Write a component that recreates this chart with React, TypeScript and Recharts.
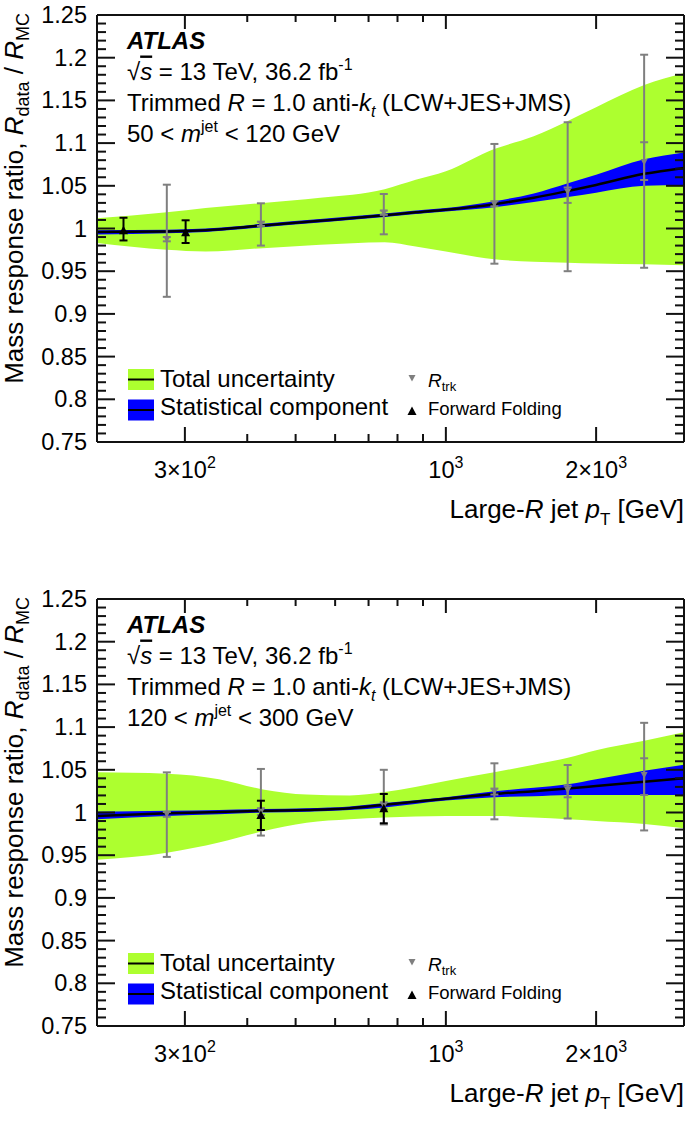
import React from 'react';
import { ComposedChart, Area, Line, Scatter, ErrorBar, XAxis, YAxis } from 'recharts';

const FONT = '"Liberation Sans", Arial, Helvetica, sans-serif';
const GREEN = '#adff2f';
const BLUE = '#0000ff';
const GREY = '#7f7f7f';
const INK = '#111';

const W = 685;
const PLOT_L = 97;
const PLOT_R = 684;
const PLOT_H = 427;
const X_AXIS_H = 60;

// axis ticks
const xMajor = [300, 1000, 2000];
const xMajorBase = ['3×10', '10', '2×10'];
const xMajorExp = ['2', '3', '3'];
const xMinor = [400, 500, 600, 700, 800, 900];
const xTicks = [...xMajor, ...xMinor].sort((a, b) => a - b);

const yMajor = [0.75, 0.8, 0.85, 0.9, 0.95, 1, 1.05, 1.1, 1.15, 1.2, 1.25];
const yMajorLabels = ['0.75', '0.8', '0.85', '0.9', '0.95', '1', '1.05', '1.1', '1.15', '1.2', '1.25'];
const yTicks: number[] = [];
for (let i = 75; i <= 125; i++) yTicks.push(i / 100);

// ---- 50 < m < 120 GeV ----
const lowPt = [200, 276, 330, 430, 560, 754, 870, 1000, 1250, 1500, 1756, 2000, 2497, 3000];
const lowTotLo = [0.983, 0.975, 0.973, 0.977, 0.981, 0.984, 0.979, 0.973, 0.964, 0.961, 0.960, 0.959, 0.958, 0.957];
const lowTotHi = [1.012, 1.019, 1.024, 1.030, 1.036, 1.046, 1.057, 1.067, 1.093, 1.108, 1.126, 1.142, 1.168, 1.182];
const lowStatLo = [0.993, 0.9945, 0.996, 1.0015, 1.007, 1.0135, 1.017, 1.020, 1.025, 1.031, 1.037, 1.042, 1.050, 1.051];
const lowStatHi = [0.998, 0.9985, 1.000, 1.0055, 1.011, 1.0175, 1.021, 1.024, 1.032, 1.041, 1.053, 1.063, 1.081, 1.089];
const lowCentral = [0.996, 0.9965, 0.998, 1.0035, 1.009, 1.0155, 1.019, 1.022, 1.0285, 1.036, 1.044, 1.051, 1.064, 1.071];

const rtrkPt = [276, 426, 751, 1251, 1754, 2496];
const lowRtrk = [0.9874, 1.0053, 1.0185, 1.0287, 1.043, 1.078];
const lowRtrkLo = [0.920, 0.980, 0.9932, 0.9588, 0.950, 0.954];
const lowRtrkHi = [1.0513, 1.0295, 1.0404, 1.099, 1.1244, 1.2035];
const lowRtrkStatLo = [0.985, 1.003, 1.016, 1.026, 1.030, 1.0568];
const lowRtrkStatHi = [0.990, 1.008, 1.021, 1.032, 1.048, 1.101];

const lowFfPt = [226, 301];
const lowFf = [0.998, 0.9955];
const lowFfLo = [0.986, 0.983];
const lowFfHi = [1.0126, 1.0096];

// ---- 120 < m < 300 GeV ----
const highPt = [200, 276, 351, 430, 526, 642, 754, 1000, 1250, 1500, 1756, 2000, 2497, 3000];
const highTotLo = [0.9447, 0.953, 0.965, 0.978, 0.988, 0.992, 0.994, 0.996, 0.996, 0.994, 0.992, 0.990, 0.9866, 0.9817];
const highTotHi = [1.047, 1.0455, 1.039, 1.027, 1.021, 1.020, 1.024, 1.037, 1.047, 1.056, 1.064, 1.073, 1.084, 1.094];
const highStatLo = [0.992, 0.996, 0.998, 1.000, 1.001, 1.003, 1.006, 1.014, 1.018, 1.019, 1.0205, 1.0205, 1.0205, 1.0205];
const highStatHi = [1.001, 1.002, 1.003, 1.004, 1.005, 1.007, 1.011, 1.018, 1.025, 1.029, 1.033, 1.039, 1.049, 1.056];
const highCentral = [0.996, 0.999, 1.0005, 1.002, 1.003, 1.005, 1.009, 1.016, 1.0217, 1.025, 1.028, 1.031, 1.036, 1.040];

const highRtrk = [0.998, 1.001, 1.008, 1.0244, 1.0264, 1.044];
const highRtrkLo = [0.948, 0.973, 0.986, 0.992, 0.993, 0.979];
const highRtrkHi = [1.047, 1.051, 1.050, 1.0576, 1.0556, 1.105];
const highRtrkStatLo = [0.995, 0.997, 1.004, 1.021, 1.0178, 1.0205];
const highRtrkStatHi = [1.0006, 1.005, 1.012, 1.028, 1.0314, 1.0635];

const highFfPt = [426, 751];
const highFf = [0.997, 1.005];
const highFfLo = [0.9795, 0.9874];
const highFfHi = [1.0138, 1.0217];

function bandRows(pt: number[], lo: number[], hi: number[], sLo: number[], sHi: number[], c: number[]) {
  return pt.map((p, i) => ({ pt: p, tot: [lo[i], hi[i]], stat: [sLo[i], sHi[i]], c: c[i] }));
}

function pointRows(pt: number[], y: number[], lo: number[], hi: number[], sLo?: number[], sHi?: number[]) {
  return pt.map((p, i) => ({
    pt: p,
    y: y[i],
    totErr: [y[i] - lo[i], hi[i] - y[i]],
    statErr: sLo && sHi ? [y[i] - sLo[i], sHi[i] - y[i]] : [0, 0],
  }));
}

const isMajorX = (v: number) => xMajor.indexOf(v);
const majorYIndex = (v: number) => yMajor.findIndex((m) => Math.abs(m - v) < 1e-6);

const bottomTick = (p: any) => {
  const i = isMajorX(p.payload.value);
  const len = i >= 0 ? 15 : 8;
  return (
    <g>
      <line x1={p.x} x2={p.x} y1={p.y} y2={p.y - len} stroke={INK} strokeWidth={2} />
      {i >= 0 && (
        <text x={p.x} y={p.y + 36} textAnchor="middle" fontSize={23.5} fontFamily={FONT} fill="#000">
          {xMajorBase[i]}
          <tspan dy={-10} fontSize={16}>{xMajorExp[i]}</tspan>
        </text>
      )}
    </g>
  );
};

const topTick = (p: any) => {
  const len = isMajorX(p.payload.value) >= 0 ? 14 : 7;
  return <line x1={p.x} x2={p.x} y1={p.y} y2={p.y + len} stroke={INK} strokeWidth={2} />;
};

const leftTick = (p: any) => {
  const i = majorYIndex(p.payload.value);
  const len = i >= 0 ? 18 : 9;
  return (
    <g>
      <line x1={p.x} x2={p.x + len} y1={p.y} y2={p.y} stroke={INK} strokeWidth={2} />
      {i >= 0 && (
        <text x={p.x - 10} y={p.y + 8} textAnchor="end" fontSize={23.5} fontFamily={FONT} fill="#000">
          {yMajorLabels[i]}
        </text>
      )}
    </g>
  );
};

const rightTick = (p: any) => {
  const len = majorYIndex(p.payload.value) >= 0 ? 18 : 9;
  return <line x1={p.x} x2={p.x - len} y1={p.y} y2={p.y} stroke={INK} strokeWidth={2} />;
};

const downTri = (p: any) => (
  <polygon points={`${p.cx - 3.5},${p.cy - 3} ${p.cx + 3.5},${p.cy - 3} ${p.cx},${p.cy + 3.5}`} fill={GREY} />
);
const upTri = (p: any) => (
  <polygon points={`${p.cx - 4.5},${p.cy + 4} ${p.cx + 4.5},${p.cy + 4} ${p.cx},${p.cy - 4.5}`} fill="#000" />
);

type PanelProps = {
  rows: any[];
  rtrk: any[];
  ff: any[];
  massLo: string;
  massHi: string;
  top: number;
  bottom: number;
};

function Overlay({ top, height, massLo, massHi }: { top: number; height: number; massLo: string; massHi: string }) {
  const bot = top + PLOT_H;
  return (
    <svg width={W} height={height} style={{ position: 'absolute', left: 0, top: 0, pointerEvents: 'none' }} fontFamily={FONT}>
      <text transform={`translate(22.7, ${top - 2}) rotate(-90)`} textAnchor="end" fontSize={26}>
        Mass response ratio, <tspan fontStyle="italic">R</tspan><tspan fontSize={18} dy={6}>data</tspan><tspan dy={-6}> / </tspan><tspan fontStyle="italic">R</tspan><tspan fontSize={18} dy={6}>MC</tspan>
      </text>
      <text x={PLOT_R} y={bot + 76} textAnchor="end" fontSize={26}>
        Large-<tspan fontStyle="italic">R</tspan> jet <tspan fontStyle="italic">p</tspan><tspan fontSize={17} dy={7}>T</tspan><tspan dy={-7}> [GeV]</tspan>
      </text>

      <text x={127} y={top + 33.5} fontSize={24} fontWeight="bold" fontStyle="italic">ATLAS</text>
      <text x={127} y={top + 64.5} fontSize={24}>
        √<tspan fontStyle="italic" style={{ textDecoration: 'overline' }}>s</tspan> = 13 TeV, 36.2 fb<tspan fontSize={16} dy={-10}>-1</tspan>
      </text>
      <text x={127} y={top + 96} fontSize={24}>
        Trimmed <tspan fontStyle="italic">R</tspan> = 1.0 anti-<tspan fontStyle="italic">k</tspan><tspan fontStyle="italic" fontSize={16} dy={6}>t</tspan><tspan dy={-6}> (LCW+JES+JMS)</tspan>
      </text>
      <text x={127} y={top + 127} fontSize={24}>
        {massLo} &lt; <tspan fontStyle="italic">m</tspan><tspan fontSize={16} dy={-10}>jet</tspan><tspan dy={10}> &lt; {massHi} GeV</tspan>
      </text>

      <rect x={128} y={top + 354} width={26} height={21} fill={GREEN} />
      <line x1={128} x2={154} y1={top + 364.5} y2={top + 364.5} stroke="#000" strokeWidth={2} />
      <text x={160} y={top + 371.7} fontSize={24}>Total uncertainty</text>
      <rect x={128} y={top + 384.5} width={26} height={21} fill={BLUE} />
      <line x1={128} x2={154} y1={top + 395} y2={top + 395} stroke="#000" strokeWidth={2} />
      <text x={160} y={top + 400} fontSize={24}>Statistical component</text>

      <polygon points={`${408.5},${top + 360} ${415.5},${top + 360} ${412},${top + 366.5}`} fill={GREY} />
      <text x={428} y={top + 371.7} fontSize={19} fontStyle="italic">
        R<tspan fontStyle="normal" fontSize={13} dy={4}>trk</tspan>
      </text>
      <polygon points={`${407.5},${top + 400} ${416.5},${top + 400} ${412},${top + 391.5}`} fill="#000" />
      <text x={428} y={top + 400} fontSize={18.5}>Forward Folding</text>
    </svg>
  );
}

function Panel({ rows, rtrk, ff, massLo, massHi, top, bottom }: PanelProps) {
  const height = top + PLOT_H + bottom;
  const axisLine = { stroke: INK, strokeWidth: 2 };
  return (
    <div style={{ position: 'relative', width: W, height }}>
      <ComposedChart
        width={W}
        height={height}
        margin={{ top: top - 1, right: W - PLOT_R - 1, bottom: bottom - X_AXIS_H, left: 0 }}
      >
        <XAxis
          dataKey="pt"
          type="number"
          scale="log"
          domain={[200, 3000]}
          allowDataOverflow
          ticks={xTicks}
          interval={0}
          tickSize={0}
          tickMargin={0}
          tickLine={false}
          height={X_AXIS_H}
          axisLine={axisLine}
          tick={bottomTick}
        />
        <XAxis
          xAxisId="top"
          orientation="top"
          dataKey="pt"
          type="number"
          scale="log"
          domain={[200, 3000]}
          allowDataOverflow
          ticks={xTicks}
          interval={0}
          tickSize={0}
          tickMargin={0}
          tickLine={false}
          height={1}
          axisLine={axisLine}
          tick={topTick}
        />
        <YAxis
          type="number"
          domain={[0.75, 1.25]}
          allowDataOverflow
          ticks={yTicks}
          interval={0}
          tickSize={0}
          tickMargin={0}
          tickLine={false}
          width={PLOT_L}
          axisLine={axisLine}
          tick={leftTick}
        />
        <YAxis
          yAxisId="right"
          orientation="right"
          type="number"
          domain={[0.75, 1.25]}
          allowDataOverflow
          ticks={yTicks}
          interval={0}
          tickSize={0}
          tickMargin={0}
          tickLine={false}
          width={1}
          axisLine={axisLine}
          tick={rightTick}
        />
        <Area data={rows} dataKey="tot" type="monotone" stroke="none" fill={GREEN} fillOpacity={1} isAnimationActive={false} />
        <Area data={rows} dataKey="stat" type="monotone" stroke="none" fill={BLUE} fillOpacity={1} isAnimationActive={false} />
        <Line data={rows} dataKey="c" type="monotone" stroke="#000" strokeWidth={2.5} dot={false} isAnimationActive={false} />
        <Scatter data={rtrk} dataKey="y" shape={downTri} isAnimationActive={false}>
          <ErrorBar dataKey="totErr" direction="y" width={4} stroke={GREY} strokeWidth={2} />
          <ErrorBar dataKey="statErr" direction="y" width={4} stroke={GREY} strokeWidth={2} />
        </Scatter>
        <Scatter data={ff} dataKey="y" shape={upTri} isAnimationActive={false}>
          <ErrorBar dataKey="totErr" direction="y" width={4} stroke="#000" strokeWidth={2} />
        </Scatter>
      </ComposedChart>
      <Overlay top={top} height={height} massLo={massLo} massHi={massHi} />
    </div>
  );
}

export default function App() {
  const lowRows = bandRows(lowPt, lowTotLo, lowTotHi, lowStatLo, lowStatHi, lowCentral);
  const highRows = bandRows(highPt, highTotLo, highTotHi, highStatLo, highStatHi, highCentral);
  const lowR = pointRows(rtrkPt, lowRtrk, lowRtrkLo, lowRtrkHi, lowRtrkStatLo, lowRtrkStatHi);
  const highR = pointRows(rtrkPt, highRtrk, highRtrkLo, highRtrkHi, highRtrkStatLo, highRtrkStatHi);
  const lowF = pointRows(lowFfPt, lowFf, lowFfLo, lowFfHi);
  const highF = pointRows(highFfPt, highFf, highFfLo, highFfHi);
  return (
    <div style={{ position: 'absolute', left: 0, top: 0, width: W, height: 1124, background: '#fff' }}>
      <Panel rows={lowRows} rtrk={lowR} ff={lowF} massLo="50" massHi="120" top={15} bottom={120} />
      <Panel rows={highRows} rtrk={highR} ff={highF} massLo="120" massHi="300" top={37} bottom={98} />
    </div>
  );
}
